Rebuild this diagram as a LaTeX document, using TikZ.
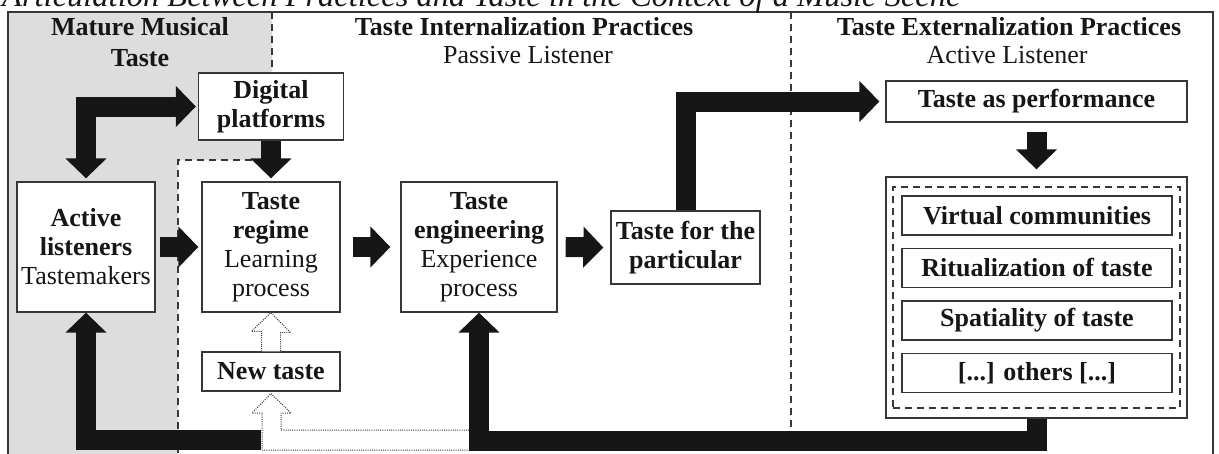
\documentclass[tikz,border=0pt]{standalone}
\usepackage{fontspec}
\setmainfont{Liberation Serif}
\usetikzlibrary{arrows.meta,calc}
\definecolor{bggray}{RGB}{221,221,221}
\definecolor{ink}{RGB}{22,22,22}
\definecolor{edge}{RGB}{55,55,55}
\begin{document}
\begin{tikzpicture}[x=1pt,y=1pt,
  box/.style={draw=edge,line width=1.3pt,fill=white,inner sep=0pt,align=center,text=ink,font={\fontsize{26}{29}\selectfont}},
  hdr/.style={inner sep=0pt,text=ink,font={\fontsize{26}{29}\selectfont}},
  dsh/.style={draw=edge,line width=1.2pt,dash pattern=on 7pt off 5pt},
  blk/.style={draw=ink,line width=20pt,line join=miter,-{Triangle[length=20pt,width=40pt]}},
  blktwo/.style={draw=ink,line width=20pt,line join=miter,{Triangle[length=20pt,width=40pt]}-{Triangle[length=20pt,width=40pt]}},
  dotarrow/.style={draw=edge,line width=1pt,dash pattern=on 1pt off 1.2pt,fill=white}]
\useasboundingbox (0,0) rectangle (1219,-453);
% background regions
\fill[bggray] (8,-12) -- (272,-12) -- (272,-160) -- (178,-160) -- (178,-470) -- (8,-470) -- cycle;
\draw[dsh] (272,-12) -- (272,-160) -- (178,-160) -- (178,-470);
\draw[dsh] (791,-12) -- (791,-470);
\draw[draw=edge,line width=1.3pt] (8,-12) rectangle (1213,-480);
% title (cut by the top edge, as in the reference)
\node[anchor=base west,inner sep=0pt,text=ink,font={\fontsize{32.5}{36}\selectfont\itshape}] (title) at (2,-6) {Articulation Between Practices and Taste in the Context of a Music Scene};
% headers
\node[hdr,anchor=base] (h1a) at (140,-35) {\textbf{Mature Musical}};
\node[hdr,anchor=base] (h1b) at (140,-66) {\textbf{Taste}};
\node[hdr,anchor=base] (h2a) at (524,-35) {\textbf{Taste Internalization Practices}};
\node[hdr,anchor=base] (h2b) at (528,-63) {Passive Listener};
\node[hdr,anchor=base] (h3a) at (1009,-35) {\textbf{Taste Externalization Practices}};
\node[hdr,anchor=base] (h3b) at (1007,-63) {Active Listener};
% boxes
\node[box,minimum width=145pt,minimum height=67pt] (dp) at (271,-106.5) {\textbf{Digital}\\\textbf{platforms}};
\node[box,minimum width=138pt,minimum height=130pt] (al) at (86,-247) {\textbf{Active}\\\textbf{listeners}\\Tastemakers};
\node[box,minimum width=138pt,minimum height=130pt] (tr) at (271,-247) {\textbf{Taste}\\\textbf{regime}\\Learning\\process};
\node[box,minimum width=156pt,minimum height=130pt] (te) at (479,-247) {\textbf{Taste}\\\textbf{engineering}\\Experience\\process};
\node[box,minimum width=149pt,minimum height=73pt] (tp) at (685.5,-247.5) {\textbf{Taste for the}\\\textbf{particular}};
\node[box,minimum width=138pt,minimum height=39pt] (nt) at (271,-371.5) {\textbf{New taste}};
\node[box,minimum width=301pt,minimum height=41pt] (tap) at (1036.5,-101.5) {\textbf{Taste as performance}};
\node[box,minimum width=301pt,minimum height=241pt] (cont) at (1036.5,-297.5) {};
\node[dsh,inner sep=0pt,minimum width=287pt,minimum height=221pt] (inner) at (1036.5,-297.5) {};
\node[box,minimum width=270pt,minimum height=39pt] (vc) at (1037,-215.5) {\textbf{Virtual communities}};
\node[box,minimum width=270pt,minimum height=39pt] (rt) at (1037,-268) {\textbf{Ritualization of taste}};
\node[box,minimum width=270pt,minimum height=39pt] (st) at (1037,-320.5) {\textbf{Spatiality of taste}};
\node[box,minimum width=270pt,minimum height=39pt] (ot) at (1037,-373) {\textbf{[...] others [...]}};
% dotted hollow arrows
\draw[dotarrow] ([xshift=-9.5pt]nt.north) -- ++(0,20) -- ++(-10,0) -- (tr.south) -- ++(19.5,-20) -- ++(-10,0) -- ([xshift=9.5pt]nt.north);
\coordinate (bl) at (261,-440);
\draw[dotarrow] (262,-450) -- (470,-450) -- (470,-430) -- (281,-430) -- (281,-413) -- (291,-413) -- ([yshift=-2pt]nt.south) -- (252,-413) -- (262,-413) -- cycle;
% black block arrows
\draw[blk] ([xshift=4pt]al.east) -- ([xshift=-3pt]tr.west);
\draw[blk] ([xshift=12pt]tr.east) -- ([xshift=-10pt]te.west);
\draw[blk] ([xshift=8pt]te.east) -- ([xshift=-7pt]tp.west);
\draw[blk] (dp.south) -- ([yshift=3pt]tr.north);
\draw[blk] ([yshift=-9pt]tap.south) -- ([yshift=7pt]cont.north);
\draw[blktwo] ([yshift=3pt]al.north) |- ([xshift=-2pt]dp.west);
\draw[blk] (tp.north) |- ([xshift=-6pt]tap.west);
\draw[blk] (cont.south) -- ++(0,-22) -| (te.south);
\draw[blk] (bl) -| (al.south);
\end{tikzpicture}
\end{document}
